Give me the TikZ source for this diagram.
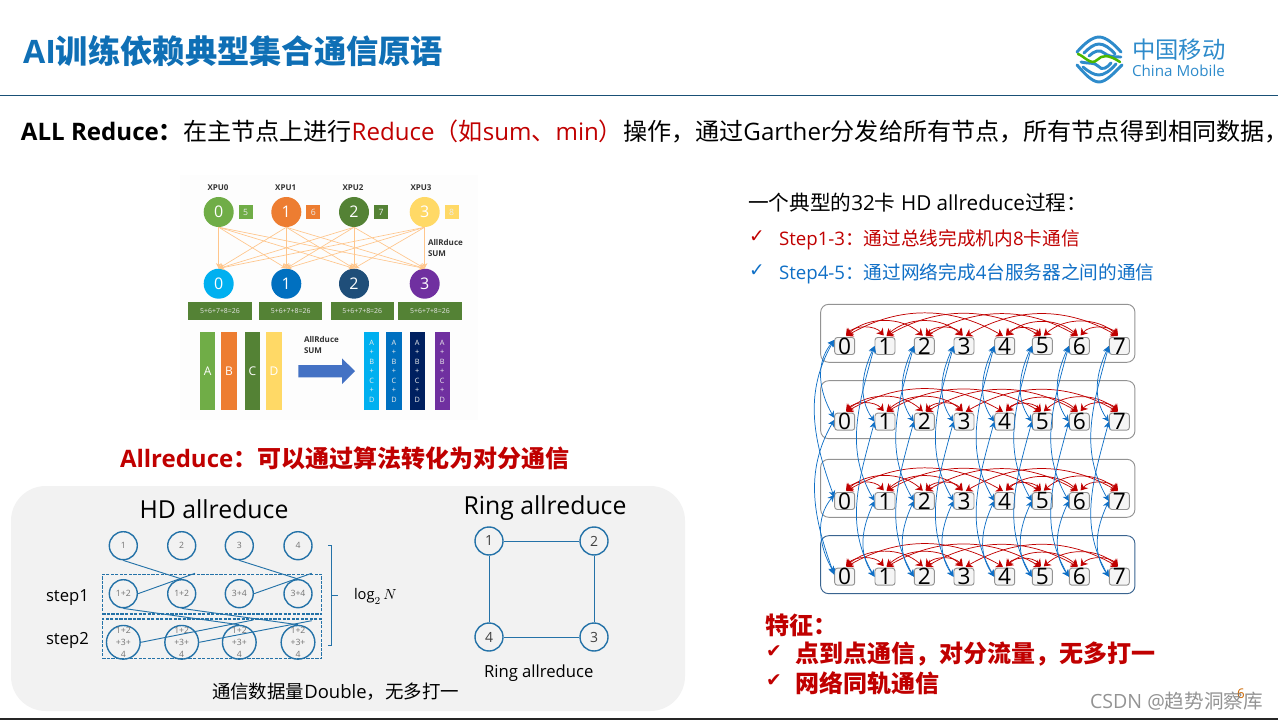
\documentclass[tikz,border=0pt]{standalone}
\usepackage{fontspec}
\setmainfont{Open Sans}
\newfontfamily\cjk{Noto Sans CJK SC}
\newfontfamily\symfont{DejaVu Sans}
\usepackage{tikz}
\usetikzlibrary{arrows.meta,calc}
\definecolor{cmBlue}{HTML}{0F6FB5}
\definecolor{cmRed}{HTML}{C00000}
\definecolor{stepBlue}{HTML}{0F6FC6}
\definecolor{hdBlue}{HTML}{2472A8}
\definecolor{logoBlue}{HTML}{2E8BCB}
\definecolor{barGreen}{HTML}{548235}
\definecolor{rackBlue}{HTML}{3A6490}
\definecolor{arrowBlue}{HTML}{4472C4}
\tikzset{
  plain/.style={inner sep=0pt, outer sep=0pt, anchor=west, align=left},
  %% All-reduce picture
  xpu/.style={circle, minimum size=30*0.75pt, inner sep=0pt, text=white, font=\fontsize{12}{12}\selectfont},
  val/.style={minimum size=14*0.75pt, inner sep=0pt, text=white!85!gray, font=\fontsize{6.5}{7}\selectfont},
  xpulabel/.style={inner sep=0pt, font=\fontsize{6}{7}\selectfont\bfseries, text=black!80},
  sumbox/.style={fill=barGreen, minimum width=63.4*0.75pt, minimum height=17.7*0.75pt, inner sep=0pt,
    text=white!80!gray, font=\fontsize{5.2}{6}\selectfont},
  bar/.style={minimum width=15.4*0.75pt, minimum height=77.7*0.75pt, inner sep=0pt, text=white,
    align=center, font=\fontsize{9}{9}\selectfont},
  xarrow/.style={-{Stealth[length=4pt,width=4pt]}, draw=orange!45!white, line width=0.5pt},
  %% HD and ring
  hdnode/.style={circle, draw=hdBlue, line width=1.05pt, minimum size=28*0.75pt, inner sep=0pt,
    text=gray!90!black, align=center, font=\fontsize{6.5}{9}\selectfont},
  hdline/.style={draw=hdBlue, line width=0.7pt},
  hdstep/.style={draw=hdBlue, dash pattern=on 2.4pt off 1pt, line width=1.05pt},
  %% 32 card part
  rackbox/.style={draw=gray!85, rounded corners=6pt, line width=0.7pt, minimum width=314.3*0.75pt,
    minimum height=58*0.75pt, inner sep=0pt},
  cardbox/.style={draw=gray!85, fill=gray!8, rounded corners=2pt, line width=0.7pt,
    minimum width=20*0.75pt, minimum height=17*0.75pt, inner sep=0pt, font=\fontsize{17}{17}\selectfont},
  redarc/.style={{Stealth[length=5pt,width=6.5pt]}-{Stealth[length=5pt,width=6.5pt]}, draw=cmRed, line width=0.55pt,
    shorten >=1.5pt, shorten <=1.5pt},
  bluearc/.style={{Stealth[length=5pt,width=5pt]}-{Stealth[length=5pt,width=5pt]}, draw=stepBlue, line width=0.55pt},
}
\begin{document}
\begin{tikzpicture}[x=0.75pt, y=0.75pt]
\useasboundingbox (0,0) rectangle (1278,-720);

\node[plain, text=cmBlue, font=\fontsize{24.2}{25}\selectfont\bfseries] (title) at (23,-51) {AI{\cjk 训练依赖典型集合通信原语}};
\draw[draw=hdBlue!70!black, line width=0.8pt] (0,-95.5) -- (1278,-95.5);
\draw[draw=black!85, line width=1pt] (0,-719) -- (1278,-719);

%% logo
\begin{scope}[draw=logoBlue, line width=2.2pt, line cap=round]
\draw (1077,-52) .. controls (1084,-44) and (1092,-37) .. (1099,-37) .. controls (1106,-37) and (1114,-44) .. (1121,-52);
\draw (1084,-53) .. controls (1089,-48) and (1094,-44) .. (1099,-44) .. controls (1104,-44) and (1110,-48) .. (1115,-54);
\draw (1077,-65) .. controls (1084,-73) and (1092,-82) .. (1099,-82) .. controls (1106,-82) and (1114,-73) .. (1122,-65);
\draw (1083,-67) .. controls (1089,-72) and (1094,-75) .. (1099,-75) .. controls (1104,-75) and (1110,-71) .. (1116,-64);
\draw (1089,-56) .. controls (1094,-51) and (1100,-49) .. (1104,-53) .. controls (1108,-56) and (1112,-57) .. (1121,-57);
\draw (1081,-62) .. controls (1090,-64) and (1094,-62) .. (1098,-66) .. controls (1102,-71) and (1107,-68) .. (1111,-63);
\draw[draw=green!60!black!70!yellow, line width=1.9pt] (1078,-54) .. controls (1084,-56) and (1091,-66) .. (1097,-60) .. controls (1102,-55) and (1108,-54) .. (1120,-62);
\end{scope}
\node[plain, text=logoBlue, font=\fontsize{17.5}{18}\selectfont\cjk] (logoCn) at (1132,-50) {中国移动};
\node[plain, text=logoBlue, font=\fontsize{11.4}{12}\selectfont] (logoEn) at (1132,-71) {China Mobile};

\node[plain, font=\fontsize{18.07}{20}\selectfont] (headline) at (21,-131) {\textbf{ALL Reduce{\cjk ：}}{\cjk 在主节点上进行}\textcolor{cmRed}{Reduce{\cjk （如}sum{\cjk 、}min{\cjk ）}}{\cjk 操作，通过}Garther{\cjk 分发给所有节点，所有节点得到相同数据，}};

%% all-reduce picture
\fill[gray!1.5] (180,-175) rectangle (478,-420);
\foreach \n/\x/\lx/\c in {0/218.7/218/70AD47, 1/286.3/285.7/ED7D31, 2/354/353/548235, 3/424.7/421/FFD966} {
  \definecolor{tmp}{HTML}{\c}
  \node[xpulabel] (xpuLabel\n) at (\lx,-187.3) {XPU\n};
  \node[xpu, fill=tmp] (top\n) at (\x,-212) {\n};
}
\foreach \n/\x/\v/\c in {0/245.7/5/70AD47, 1/313.3/6/ED7D31, 2/381/7/548235, 3/451.7/8/FFD966} {
  \definecolor{tmp}{HTML}{\c}
  \node[val, fill=tmp] (val\n) at (\x,-212) {\v};
}
\foreach \n/\x/\c in {0/218.7/00B0F0, 1/286.3/0070C0, 2/354/1F4E79, 3/424.7/7030A0} {
  \definecolor{tmp}{HTML}{\c}
  \node[xpu, fill=tmp] (bot\n) at (\x,-283.7) {\n};
}
\foreach \a in {0,...,3}
  \foreach \b in {0,...,3}
    \draw[xarrow] (top\a.south) -- (bot\b.north);
\foreach \n/\x in {0/220,1/290.7,2/362.3,3/430}
  \node[sumbox] (sum\n) at (\x,-311.2) {5+6+7+8=26};
\node[plain, font=\fontsize{6}{8}\selectfont\bfseries, text=black!80] (sumA) at (428,-248) {AllRduce\\SUM};
\foreach \n/\x/\t/\c in {a/207.7/A/70AD47, b/229/B/ED7D31, c/252.5/C/548235, d/274/D/FFD966} {
  \definecolor{tmp}{HTML}{\c}
  \node[bar, fill=tmp] (bar\n) at (\x,-371.2) {\t};
}
\node[plain, font=\fontsize{6}{8}\selectfont\bfseries, text=black!80] (sumB) at (304,-345) {AllRduce\\SUM};
\fill[arrowBlue] (298.3,-365) -- (342,-365) -- (342,-358.3) -- (355,-371.2) -- (342,-384) -- (342,-377.3) -- (298.3,-377.3) -- cycle;
\foreach \n/\x/\c in {a/371.7/00B0F0, b/394/0070C0, c/417.3/002060, d/442.3/7030A0} {
  \definecolor{tmp}{HTML}{\c}
  \node[bar, fill=tmp, font=\fontsize{5.5}{7.1}\selectfont, text=white!85!gray] (res\n) at (\x,-371.2) {A\\+\\B\\+\\C\\+\\D};
}

\node[plain, text=cmRed, font=\fontsize{18}{20}\selectfont\bfseries] (allNote) at (120,-458) {Allreduce{\cjk ：可以通过算法转化为对分通信}};

%% HD and ring panel
\fill[gray!10, rounded corners=26pt] (11,-486) rectangle (685,-711);
\node[inner sep=0pt, font=\fontsize{18.6}{20}\selectfont] (hdTitle) at (214,-509) {HD allreduce};
\node[inner sep=0pt, font=\fontsize{18.6}{20}\selectfont] (ringTitle) at (545,-508) {Ring allreduce};
\foreach \c/\x in {1/123.3,2/181.7,3/239.3,4/298}
  \node[hdnode] (hdA\c) at (\x,-545.7) {\c};
\foreach \c/\x/\t in {1/123.3/1+2,2/181.7/1+2,3/239.3/3+4,4/298/3+4}
  \node[hdnode] (hdB\c) at (\x,-593.7) {\t};
\foreach \c/\x in {1/123.3,2/181.7,3/239.3,4/298}
  \node[hdnode] (hdC\c) at (\x,-642.3) {1+2\\+3+\\4};
\node[hdstep, minimum width=219.4*0.75pt, minimum height=39.7*0.75pt, inner sep=0pt] (stepOne) at (212,-594.2) {};
\node[hdstep, minimum width=219.4*0.75pt, minimum height=39.3*0.75pt, inner sep=0pt] (stepTwo) at (212,-638.7) {};
\coordinate (freeA) at (195,-573.3);
\coordinate (freeB) at (311.7,-573.3);
\coordinate (freeC) at (253.3,-620);
\coordinate (freeD) at (311.7,-620.7);
\draw[hdline] (hdA1.south) -- (hdB2.north);
\draw[hdline] (hdA3.south) -- (hdB4.north);
\draw[hdline] (hdB1.east) -- (freeA);
\draw[hdline] (hdB3.east) -- (freeB);
\draw[hdline] (hdB1.south) -- (hdC3.north);
\draw[hdline] (hdB2.south) -- (hdC4.north);
\draw[hdline] (hdC1.east) -- (freeC);
\draw[hdline] (hdC2.east) -- (freeD);
\draw[hdline] (328.3,-545.7) -- (331.7,-545.7) -- (331.7,-645) -- (328.3,-645);
\draw[hdline] (331.7,-595) -- (337.7,-595);
\node[plain, font=\fontsize{11}{12}\selectfont] (logNote) at (354,-596.5) {$\log_2 N$};
\node[plain, font=\fontsize{12.5}{14}\selectfont] (stepA) at (46,-597.5) {step1};
\node[plain, font=\fontsize{12.5}{14}\selectfont] (stepB) at (46,-640) {step2};
\node[plain, font=\fontsize{13.85}{16}\selectfont] (hdNote) at (212,-692) {{\cjk 通信数据量}Double{\cjk ，无多打一}};

\foreach \c/\x/\y in {1/489/-541,2/594/-541,3/594/-637,4/489/-637}
  \node[hdnode, text=black!75, font=\fontsize{10.5}{11}\selectfont] (ring\c) at (\x,\y) {\c};
\draw[hdline, line width=0.6pt] (ring1) -- (ring2);
\draw[hdline, line width=0.6pt] (ring2) -- (ring3);
\draw[hdline, line width=0.6pt] (ring3) -- (ring4);
\draw[hdline, line width=0.6pt] (ring4) -- (ring1);
\node[plain, font=\fontsize{12.5}{14}\selectfont] (ringNote) at (484,-673) {Ring allreduce};

%% 32 card part
\node[plain, font=\fontsize{15.5}{16}\selectfont] (cardTitle) at (748,-203) {{\cjk 一个典型的}32{\cjk 卡} HD allreduce{\cjk 过程：}};
\node[plain, text=cmRed, font=\fontsize{14}{14}\selectfont\symfont] (tickA) at (749,-237) {✓};
\node[plain, text=cmRed, font=\fontsize{14}{15}\selectfont] (stepText) at (779,-240) {Step1-3{\cjk ：通过总线完成机内}8{\cjk 卡通信}};
\node[plain, text=stepBlue, font=\fontsize{14}{14}\selectfont\symfont] (tickB) at (749,-271) {✓};
\node[plain, text=stepBlue, font=\fontsize{14}{15}\selectfont] (stepTextB) at (779,-274) {Step4-5{\cjk ：通过网络完成}4{\cjk 台服务器之间的通信}};

\foreach \r/\y in {1/-333.3,2/-409.7,3/-488.3}
  \node[rackbox] (rack\r) at (977.8,\y) {};
\node[rackbox, draw=rackBlue] (rack4) at (977.8,-564.7) {};
\foreach \r/\y in {1/-346,2/-421.7,3/-501,4/-576.7}
  \foreach \c/\x in {0/844.7,1/885,2/924.3,3/964,4/1004.7,5/1042.3,6/1079.3,7/1119.3}
    \node[cardbox] (card\r\c) at (\x,\y) {\c};

\foreach \r in {1,...,4} {
  \foreach \a/\b in {0/1,2/3,4/5,6/7}
    \draw[redarc, bend left=50] (card\r\a.north) to (card\r\b.north);
  \foreach \a/\b in {0/2,1/3,4/6,5/7}
    \draw[redarc, bend left=42] (card\r\a.north) to (card\r\b.north);
  \foreach \a/\b in {0/4,1/5,2/6,3/7}
    \draw[redarc, bend left=30] (card\r\a.north) to (card\r\b.north);
}
\foreach \c in {1,...,7} {
  \draw[bluearc] (card1\c.west) to[out=245,in=125] (card2\c.west);
  \draw[bluearc] (card3\c.west) to[out=245,in=125] (card4\c.west);
  \draw[bluearc] (card1\c.west) to[out=255,in=120] (card3\c.west);
  \draw[bluearc] (card2\c.west) to[out=255,in=120] (card4\c.west);
}
\draw[bluearc] (card10.150) to[out=230,in=120] (card20.160);
\draw[bluearc] (card30.150) to[out=230,in=120] (card40.160);
\draw[bluearc] (card10.150) to[out=240,in=110] (card30.160);
\draw[bluearc] (card20.170) to[out=240,in=110] (card40.170);

\node[plain, text=cmRed, font=\fontsize{18}{18}\selectfont\bfseries\cjk] (featTitle) at (765,-625) {特征：};
\node[plain, text=cmRed, font=\fontsize{14}{14}\selectfont\symfont] (tickC) at (766,-652) {✔};
\node[plain, text=cmRed, font=\fontsize{18}{18}\selectfont\bfseries\cjk] (featA) at (795,-654) {点到点通信，对分流量，无多打一};
\node[plain, text=cmRed, font=\fontsize{14}{14}\selectfont\symfont] (tickD) at (766,-681) {✔};
\node[plain, text=cmRed, font=\fontsize{18}{18}\selectfont\bfseries\cjk] (featB) at (795,-683) {网络同轨通信};

\node[plain, text=orange!80!black, font=\fontsize{10}{10}\selectfont] (pageNo) at (1237,-694) {6};
\node[plain, text=gray, opacity=0.85, font=\fontsize{14.7}{15}\selectfont] (mark) at (1090,-701) {CSDN @{\cjk 趋势洞察库}};
\end{tikzpicture}
\end{document}
